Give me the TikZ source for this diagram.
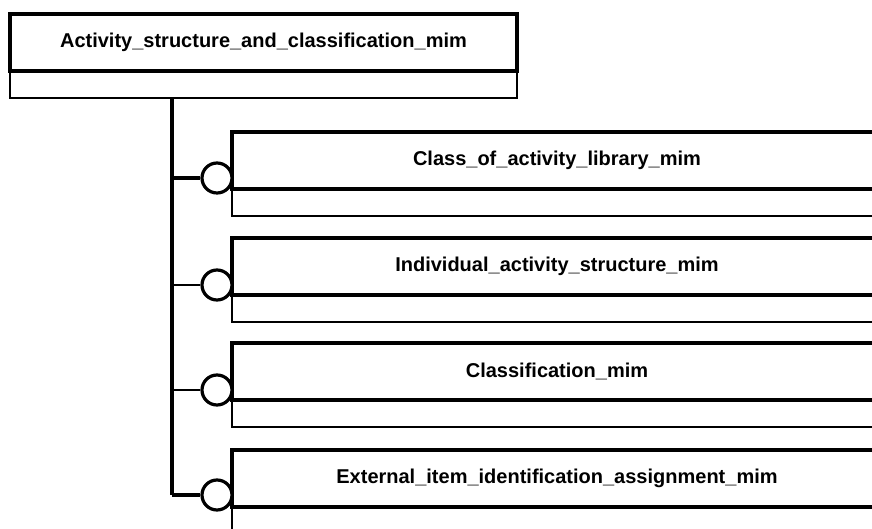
\documentclass[tikz,border=0pt]{standalone}
\usepackage{fontspec}
\setmainfont{Liberation Sans}
\usepackage{tikz}
\usetikzlibrary{positioning}
\tikzset{
  every picture/.style = {
    x = 1pt,
    y = 1pt,
    line width = 3.2pt,
    node distance = 0pt
  }
  , % upper part of a module box
  modhead/.style = {
    rectangle,
    draw,
    inner sep = 0pt,
    outer sep = 0pt,
    minimum height = 57pt,
    font = \fontsize{20}{23}\selectfont\bfseries
  }
  , % lower (empty) part of a module box
  modbody/.style = {
    rectangle,
    draw,
    inner sep = 0pt,
    outer sep = 0pt,
    minimum height = 27pt
  }
  , % interface circles
  socket/.style = {
    circle,
    draw,
    fill = white,
    inner sep = 0pt,
    minimum size = 30pt
  }
  ,
  thin branch/.style = {
    line width = 1.8pt
  }
}
\begin{document}
\begin{tikzpicture}
\useasboundingbox (0,0) rectangle (872,529);
\clip (0,0) rectangle (872,529);
% main module
\node[modhead, minimum width = 507pt] at (263.5,486.5) (asc) {Activity\_structure\_and\_classification\_mim};
\node[modbody, minimum width = 507pt, below = of asc, line width = 2.4pt] (asc-b) {};
% used modules
\node[modhead, minimum width = 650pt] at (557,368.5) (col) {Class\_of\_activity\_library\_mim};
\node[modbody, minimum width = 650pt, below = of col, line width = 2.4pt] (col-b) {};
\node[modhead, minimum width = 650pt] at (557,262.5) (ias) {Individual\_activity\_structure\_mim};
\node[modbody, minimum width = 650pt, below = of ias, line width = 2.4pt] (ias-b) {};
\node[modhead, minimum width = 650pt] at (557,157.5) (cls) {Classification\_mim};
\node[modbody, minimum width = 650pt, below = of cls, line width = 2.4pt] (cls-b) {};
\node[modhead, minimum width = 650pt] at (557,50.5) (eiia) {External\_item\_identification\_assignment\_mim};
\node[modbody, minimum width = 650pt, below = of eiia, line width = 2.4pt] (eiia-b) {};
% joints on the trunk
\coordinate (j1) at (172,351);
\coordinate (j2) at (172,244);
\coordinate (j3) at (172,139);
\coordinate (j4) at (172,34);
\draw (asc-b.south -| j1) -- (j4);
\node[socket] at (217,351) (s1) {};
\node[socket] at (217,244) (s2) {};
\node[socket] at (217,139) (s3) {};
\node[socket] at (217,34) (s4) {};
\draw (j1) -- (s1);
\draw[thin branch] (j2) -- (s2);
\draw[thin branch] (j3) -- (s3);
\draw (j4) -- (s4);
\end{tikzpicture}
\end{document}
